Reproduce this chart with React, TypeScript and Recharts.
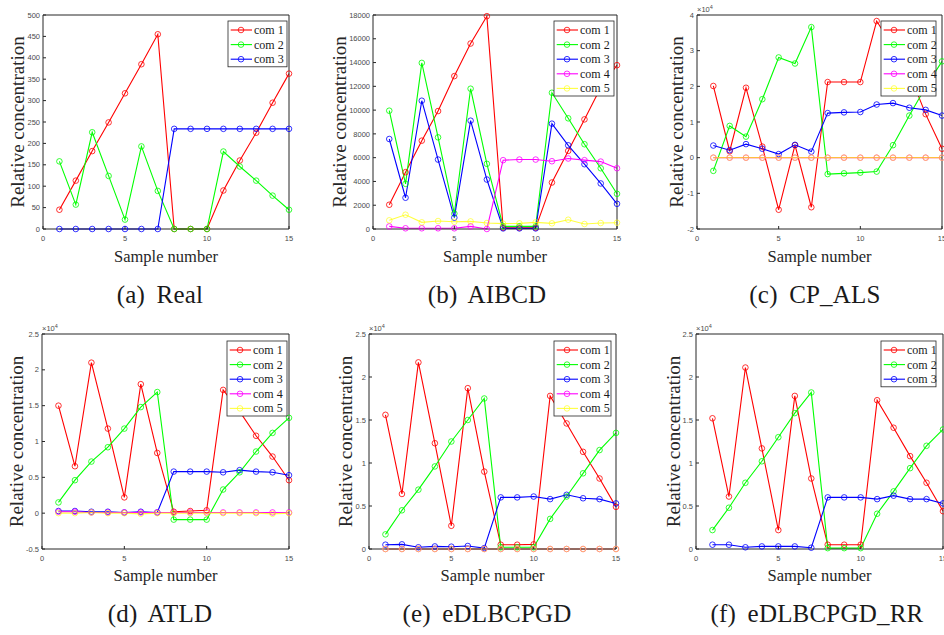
import { Line, LineChart, XAxis, YAxis } from "recharts";

const samples = [1, 2, 3, 4, 5, 6, 7, 8, 9, 10, 11, 12, 13, 14, 15];
const sampleTicks = [0, 5, 10, 15];

// (a) Real
const realCom1 = [45, 113, 182, 249, 317, 385, 455, 0, 0, 0, 90, 160, 225, 295, 363];
const realCom2 = [158, 57, 226, 124, 22, 193, 89, 0, 0, 0, 181, 146, 113, 78, 45];
const realCom3 = [0, 0, 0, 0, 0, 0, 0, 234, 234, 234, 234, 234, 234, 234, 234];
const realTicks = [0, 50, 100, 150, 200, 250, 300, 350, 400, 450, 500];

// (b) AIBCD
const aibcdCom1 = [2040, 4780, 7430, 9920, 12860, 15600, 17900, 100, 100, 100, 3910, 6570, 9220, 11900, 13780];
const aibcdCom2 = [9950, 3800, 13970, 7710, 1300, 11800, 5480, 220, 220, 220, 11460, 9310, 7130, 5110, 2960];
const aibcdCom3 = [7570, 2630, 10790, 5840, 950, 9110, 4160, 50, 50, 50, 8860, 7040, 5450, 3830, 2120];
const aibcdCom4 = [220, 60, 60, 60, 60, 220, 0, 5790, 5840, 5840, 5700, 5930, 5790, 5670, 5110];
const aibcdCom5 = [730, 1200, 560, 670, 610, 640, 500, 450, 475, 560, 475, 780, 420, 500, 530];
const aibcdTicks = [0, 2000, 4000, 6000, 8000, 10000, 12000, 14000, 16000, 18000];

// (c) CP_ALS  (x10^4)
const cpCom1 = [2.01, 0.18, 1.96, 0.31, -1.46, 0.35, -1.39, 2.12, 2.12, 2.12, 3.83, 3.1, 2.37, 1.22, 0.25];
const cpCom2 = [-0.37, 0.89, 0.59, 1.64, 2.81, 2.64, 3.66, -0.46, -0.44, -0.42, -0.39, 0.35, 1.18, 1.98, 2.7];
const cpCom3 = [0.34, 0.21, 0.38, 0.25, 0.1, 0.36, 0.17, 1.25, 1.27, 1.28, 1.49, 1.53, 1.4, 1.34, 1.18];
const cpCom4 = [0, 0, 0, 0, 0, 0, 0, 0, 0, 0, 0, 0, 0, 0, 0];
const cpCom5 = [0, 0, 0, 0, 0, 0, 0, 0, 0, 0, 0, 0, 0, 0, 0];
const cpTicks = [-2, -1, 0, 1, 2, 3, 4];

// (d) ATLD  (x10^4)
const atldCom1 = [1.5, 0.655, 2.1, 1.18, 0.22, 1.8, 0.84, 0.02, 0.03, 0.04, 1.72, 1.42, 1.08, 0.79, 0.46];
const atldCom2 = [0.15, 0.46, 0.72, 0.92, 1.18, 1.48, 1.69, -0.09, -0.09, -0.09, 0.33, 0.57, 0.86, 1.12, 1.33];
const atldCom3 = [0.03, 0.03, 0.02, 0.02, 0.01, 0.02, 0.01, 0.58, 0.58, 0.58, 0.57, 0.6, 0.58, 0.57, 0.53];
const atldCom4 = [0.02, 0.02, 0.01, 0.01, 0.01, 0.01, 0.01, 0.01, 0.01, 0.01, 0.01, 0.01, 0.01, 0.01, 0.01];
const atldCom5 = [0, 0, 0.01, 0, 0, -0.01, 0, 0, 0, 0, 0, 0, 0, -0.01, 0];
const atldTicks = [-0.5, 0, 0.5, 1, 1.5, 2, 2.5];

// (e) eDLBCPGD  (x10^4)
const edCom1 = [1.56, 0.64, 2.17, 1.23, 0.27, 1.87, 0.9, 0.05, 0.05, 0.054, 1.78, 1.46, 1.13, 0.82, 0.49];
const edCom2 = [0.17, 0.45, 0.69, 0.96, 1.25, 1.5, 1.75, 0.02, 0.02, 0.02, 0.35, 0.61, 0.88, 1.15, 1.35];
const edCom3 = [0.05, 0.054, 0.02, 0.03, 0.027, 0.035, 0.01, 0.6, 0.6, 0.61, 0.58, 0.63, 0.59, 0.58, 0.53];
const edCom4 = [0, 0, 0, 0, 0, 0, 0, 0, 0, 0, 0, 0, 0, 0, 0];
const edCom5 = [0, 0, 0, 0, 0, 0, 0, 0, 0, 0, 0, 0, 0, 0, 0];
const edTicks = [0, 0.5, 1, 1.5, 2, 2.5];

// (f) eDLBCPGD_RR  (x10^4)
const rrCom1 = [1.52, 0.61, 2.11, 1.17, 0.22, 1.78, 0.82, 0.05, 0.05, 0.05, 1.73, 1.41, 1.08, 0.77, 0.44];
const rrCom2 = [0.22, 0.48, 0.77, 1.02, 1.3, 1.58, 1.82, 0.01, 0.01, 0.01, 0.41, 0.67, 0.94, 1.2, 1.39];
const rrCom3 = [0.05, 0.05, 0.02, 0.03, 0.03, 0.03, 0.015, 0.6, 0.6, 0.6, 0.58, 0.62, 0.58, 0.58, 0.53];
const rrTicks = [0, 0.5, 1, 1.5, 2, 2.5];

const names = ["com 1", "com 2", "com 3", "com 4", "com 5"];
const colors = ["#ff0000", "#00ff00", "#0000ff", "#ff00ff", "#ffff00"];
const opac = [1, 1, 1, 1, 0.75];

const AXIS = "#262626";
const TICK_TXT = "#4a4a4a";
const SANS = "Liberation Sans, Arial, sans-serif";
const SERIF = "Liberation Serif, Times New Roman, serif";

type Box = { l: number; t: number; w: number; h: number };
type PanelDef = {
  caption: string;
  series: number[][];
  yDomain: [number, number];
  yTicks: number[];
  exp: boolean;
  plot: Box;
  legend: { x: number; y: number; w: number };
  yLabelX: number;
  capX: number;
};

const panels: PanelDef[] = [
  {
    caption: "(a) Real",
    series: [realCom1, realCom2, realCom3],
    yDomain: [0, 500],
    yTicks: realTicks,
    exp: false,
    plot: { l: 43, t: 15, w: 246, h: 214 },
    legend: { x: 228, y: 21, w: 59 },
    yLabelX: 17,
    capX: 160,
  },
  {
    caption: "(b) AIBCD",
    series: [aibcdCom1, aibcdCom2, aibcdCom3, aibcdCom4, aibcdCom5],
    yDomain: [0, 18000],
    yTicks: aibcdTicks,
    exp: false,
    plot: { l: 373, t: 15, w: 244, h: 214 },
    legend: { x: 554, y: 21, w: 60 },
    yLabelX: 339,
    capX: 487,
  },
  {
    caption: "(c) CP_ALS",
    series: [cpCom1, cpCom2, cpCom3, cpCom4, cpCom5],
    yDomain: [-2, 4],
    yTicks: cpTicks,
    exp: true,
    plot: { l: 697, t: 15, w: 245, h: 214 },
    legend: { x: 881, y: 21, w: 55 },
    yLabelX: 676,
    capX: 815,
  },
  {
    caption: "(d) ATLD",
    series: [atldCom1, atldCom2, atldCom3, atldCom4, atldCom5],
    yDomain: [-0.5, 2.5],
    yTicks: atldTicks,
    exp: true,
    plot: { l: 42, t: 334, w: 247, h: 215 },
    legend: { x: 227, y: 341, w: 60 },
    yLabelX: 16.5,
    capX: 160,
  },
  {
    caption: "(e) eDLBCPGD",
    series: [edCom1, edCom2, edCom3, edCom4, edCom5],
    yDomain: [0, 2.5],
    yTicks: edTicks,
    exp: true,
    plot: { l: 369, t: 334, w: 247, h: 215 },
    legend: { x: 554, y: 341, w: 57 },
    yLabelX: 345,
    capX: 487,
  },
  {
    caption: "(f) eDLBCPGD_RR",
    series: [rrCom1, rrCom2, rrCom3],
    yDomain: [0, 2.5],
    yTicks: rrTicks,
    exp: true,
    plot: { l: 696, t: 334, w: 247, h: 215 },
    legend: { x: 881, y: 341, w: 55 },
    yLabelX: 673,
    capX: 817,
  },
];

const ML = 40; // left axis width
const MT = 10;
const MR = 6;
const XH = 24; // bottom axis height

function Plot({ p }: { p: PanelDef }) {
  const data = samples.map((x, i) => {
    const row: Record<string, number> = { x };
    p.series.forEach((s, k) => {
      row[`c${k}`] = s[i];
    });
    return row;
  });
  const tickFont = { fontSize: 7.5, fill: TICK_TXT, fontFamily: SANS };

  return (
    <div style={{ position: "absolute", left: p.plot.l - ML, top: p.plot.t - MT - 1 }}>
      <LineChart
        width={p.plot.w + ML + 1 + MR}
        height={p.plot.h + MT + 1 + XH}
        data={data}
        margin={{ top: MT, right: MR, bottom: 0, left: 0 }}
      >
        <XAxis
          xAxisId="top"
          orientation="top"
          type="number"
          dataKey="x"
          domain={[0, 15]}
          ticks={sampleTicks}
          interval={0}
          height={1}
          tick={false}
          tickSize={-3}
          stroke={AXIS}
        />
        <XAxis
          type="number"
          dataKey="x"
          domain={[0, 15]}
          ticks={sampleTicks}
          interval={0}
          height={XH}
          tickSize={-3}
          tickMargin={10}
          tick={tickFont}
          stroke={AXIS}
        />
        <YAxis
          type="number"
          domain={p.yDomain}
          ticks={p.yTicks}
          interval={0}
          width={ML}
          tickSize={-3}
          tickMargin={6}
          tick={tickFont}
          stroke={AXIS}
        />
        <YAxis
          yAxisId="right"
          orientation="right"
          type="number"
          domain={p.yDomain}
          ticks={p.yTicks}
          interval={0}
          width={1}
          tick={false}
          tickSize={-3}
          stroke={AXIS}
        />
        {p.series.map((_, k) => (
          <Line
            key={k}
            type="linear"
            dataKey={`c${k}`}
            name={names[k]}
            stroke={colors[k]}
            strokeOpacity={opac[k]}
            strokeWidth={1.1}
            dot={{ r: 2.8, fill: "none", stroke: colors[k], strokeOpacity: opac[k], strokeWidth: 0.8 }}
            activeDot={false}
            isAnimationActive={false}
          />
        ))}
      </LineChart>
    </div>
  );
}

function Texts({ p }: { p: PanelDef }) {
  const cx = p.plot.l + p.plot.w / 2;
  const cy = p.plot.t + p.plot.h / 2;
  const n = p.series.length;
  const rowH = 14.6;
  const lg = p.legend;
  return (
    <g>
      <text
        x={p.yLabelX}
        y={cy}
        transform={`rotate(-90 ${p.yLabelX} ${cy})`}
        textAnchor="middle"
        dominantBaseline="central"
        style={{ fontFamily: SERIF, fontSize: 19 }}
        fill="#262626"
      >
        Relative concentration
      </text>
      <text
        x={cx}
        y={p.plot.t + 247}
        textAnchor="middle"
        style={{ fontFamily: SERIF, fontSize: 16.5 }}
        fill="#262626"
      >
        Sample number
      </text>
      <text
        x={p.capX}
        y={p.plot.t + 288}
        textAnchor="middle"
        style={{ fontFamily: SERIF, fontSize: 25, letterSpacing: 0.2, wordSpacing: 5 }}
        fill="#1a1a1a"
      >
        {p.caption}
      </text>
      {p.exp && (
        <text x={p.plot.l} y={p.plot.t - 3} style={{ fontFamily: SANS, fontSize: 7.5 }} fill={TICK_TXT}>
          ×10
          <tspan dy={-3} style={{ fontSize: 5.5 }}>
            4
          </tspan>
        </text>
      )}
      <rect x={lg.x} y={lg.y} width={lg.w} height={rowH * n + 2} fill="#fff" stroke={AXIS} strokeWidth={0.8} />
      {p.series.map((_, k) => {
        const y = lg.y + 9 + rowH * k;
        return (
          <g key={k}>
            <line x1={lg.x + 2.7} x2={lg.x + 24} y1={y} y2={y} stroke={colors[k]} strokeOpacity={opac[k]} strokeWidth={1.1} />
            <circle cx={lg.x + 13} cy={y} r={2.8} fill="none" stroke={colors[k]} strokeOpacity={opac[k]} strokeWidth={0.8} />
            <text x={lg.x + 26} y={y + 4} style={{ fontFamily: SERIF, fontSize: 12 }} fill="#1a1a1a">
              {names[k]}
            </text>
          </g>
        );
      })}
    </g>
  );
}

export default function App() {
  return (
    <div
      style={{
        position: "absolute",
        left: 0,
        top: 0,
        width: 944,
        height: 635,
        overflow: "hidden",
        background: "#fff",
      }}
    >
      {panels.map((p) => (
        <Plot key={p.caption} p={p} />
      ))}
      <svg width={944} height={635} style={{ position: "absolute", left: 0, top: 0, pointerEvents: "none" }}>
        {panels.map((p) => (
          <Texts key={p.caption} p={p} />
        ))}
      </svg>
    </div>
  );
}
